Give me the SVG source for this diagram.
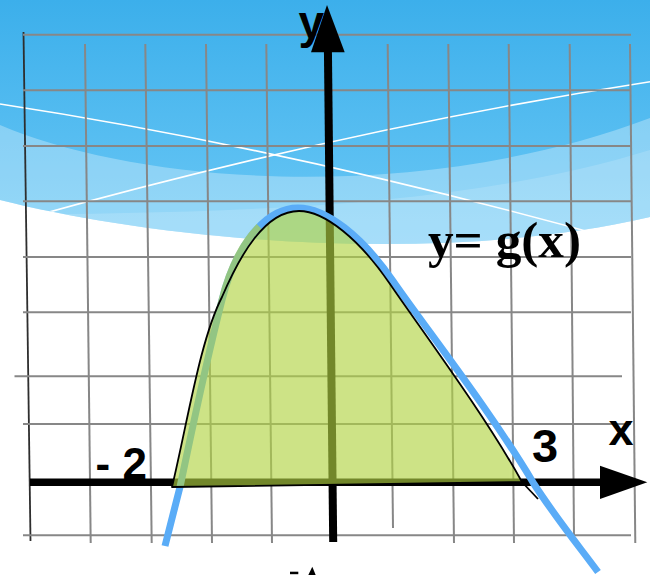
<svg xmlns="http://www.w3.org/2000/svg" width="650" height="575" viewBox="0 0 650 575">
<defs>
<linearGradient id="sky" x1="0" y1="0" x2="0" y2="250" gradientUnits="userSpaceOnUse">
<stop offset="0" stop-color="#3cafeb"/>
<stop offset="1" stop-color="#6cc9f6"/>
</linearGradient>
<clipPath id="skyclip"><path d="M0,0 H650 V217 C430,268 150,238 0,200 Z"/></clipPath>
<style>
.grid{stroke:#878787;stroke-width:2;fill:none}
.lbl{font-family:"Liberation Sans",Arial,sans-serif;font-weight:bold;fill:#000}
.fn{font-family:"Liberation Serif","Times New Roman",serif;font-weight:bold;fill:#000}
.wl{stroke:#fff;stroke-width:1.6;fill:none}
.axis{stroke:#000;fill:none}
</style>
</defs>
<rect width="650" height="575" fill="#fff"/>
<g id="background" clip-path="url(#skyclip)">
<rect width="650" height="300" fill="url(#sky)"/>
<path d="M0,125 C140,185 420,205 650,118 V300 H0 Z" fill="#fff" fill-opacity="0.3"/>
<path d="M0,215 C200,212 450,212 650,150 V300 H0 Z" fill="#fff" fill-opacity="0.15"/>
<path class="wl" d="M0,104 Q300,150 640,246"/>
<path class="wl" d="M20,220 Q350,128 650,81.7"/>
</g>
<g id="grid">
<line x1="23.5" y1="32" x2="30.5" y2="541" stroke="#2e2e2e" stroke-width="1.8"/>
<g class="grid">
<line x1="23" y1="34.7" x2="631" y2="34.7"/>
<line x1="23" y1="90.3" x2="631" y2="90.3"/>
<line x1="23" y1="146" x2="631" y2="146"/>
<line x1="23" y1="201.3" x2="631" y2="201.3"/>
<line x1="23" y1="257" x2="631" y2="257"/>
<line x1="23" y1="312.3" x2="631" y2="312.3"/>
<line x1="14.5" y1="376.3" x2="622" y2="376.3"/>
<line x1="23" y1="424" x2="631" y2="424"/>
<line x1="23" y1="535.3" x2="631" y2="535.3"/>
<line x1="85" y1="44" x2="90.7" y2="543"/>
<line x1="145.3" y1="44" x2="151.7" y2="543"/>
<line x1="206" y1="44" x2="212" y2="543"/>
<line x1="266.3" y1="44" x2="272" y2="543"/>
<line x1="387.7" y1="44" x2="393" y2="528"/>
<line x1="448.3" y1="44" x2="454" y2="543"/>
<line x1="508.7" y1="44" x2="514" y2="543"/>
<line x1="569.7" y1="44" x2="574" y2="536"/>
<line x1="630" y1="44" x2="635.3" y2="543"/>
</g>
</g>
<g id="axes">
<line class="axis" x1="327.9" y1="48" x2="333.2" y2="542" stroke-width="8"/>
<line class="axis" x1="30" y1="482.3" x2="604" y2="482.3" stroke-width="7.5"/>
</g>
<g id="curve-g">
<path d="M165,546 L180,487 C190,440 204,370 222,300 C234,252 262,208 298,208 C326,208 362,236 393,281 C424,326 490,410 534,484 C556,518 578,545 598,572" fill="none" stroke="#5aacf7" stroke-width="7"/>
</g>
<g id="area" opacity="0.64" fill="#b2d443">
<path d="M172,487 C188,420 200,340 222,297 C240,255 265,211 299,211 C325,211 360,240 390,284 C420,328 485,415 522,482 Z"/>
<path d="M180,487 C190,440 204,370 222,300 C229.2,271.2 242.16,243.84 259.15,226.56" fill="none" stroke="#b2d443" stroke-width="7"/>
</g>
<g id="area-outline" fill="none" stroke="#000" stroke-width="1.8" stroke-linejoin="round">
<path d="M172,487 C188,420 200,340 222,297 C240,255 265,211 299,211 C325,211 360,240 390,284 C420,328 485,415 522,482 Z"/>
<line x1="522" y1="482" x2="538" y2="499"/>
</g>
<g id="labels">
<text class="lbl" x="298.5" y="38" font-size="46">y</text>
<text class="lbl" x="608.5" y="444.7" font-size="45">x</text>
<text class="lbl" x="532" y="462" font-size="47">3</text>
<text class="lbl" x="95.5" y="478.7" font-size="44">- 2</text>
<text class="fn" x="428" y="257" font-size="51" textLength="153" lengthAdjust="spacingAndGlyphs">y= g(x)</text>
</g>
<g id="arrowheads">
<polygon points="327,5 311,52.3 344.7,52.3" fill="#000"/>
<polygon points="647.3,482.3 600,465.7 600,499" fill="#000"/>
</g>
<g id="cutoff-marks">
<rect x="290" y="571.7" width="8.3" height="2.5" fill="#000"/>
<polygon points="312.3,566.7 308.3,575 315.7,575" fill="#000"/>
</g>
</svg>
